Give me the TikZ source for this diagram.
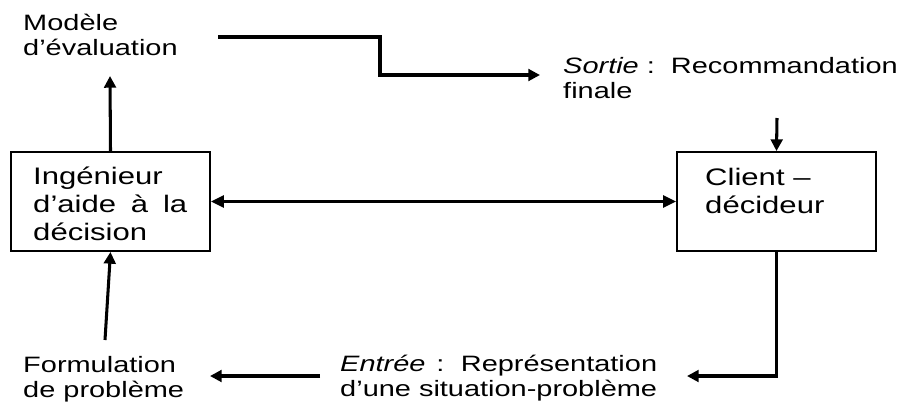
\documentclass[tikz,border=0pt]{standalone}
\usepackage{fontspec}
\setmainfont{Liberation Sans}[FakeStretch=1.3]
\usetikzlibrary{arrows.meta, positioning}
\newlength{\lignelong}

\begin{document}
\begin{tikzpicture}[
    x=0.3mm, y=-0.3mm,
    boite/.style={draw, line width=1.6pt, minimum width=59.7mm, minimum height=29.7mm, inner sep=0pt},
    texte/.style={inner sep=0pt, align=left, anchor=base west, font={\fontsize{19}{21.3}\selectfont}},
    texteboite/.style={inner sep=0pt, align=left, anchor=base west, font={\fontsize{20.4}{23.5}\selectfont}},
    fleche/.style={-{Triangle[length=10pt, width=10pt]}, line width=2.6pt},
    deuxsens/.style={{Triangle[length=11pt, width=10pt]}-{Triangle[length=11pt, width=10pt]}, line width=2.6pt},
    trait/.style={line width=2.6pt}
]
\useasboundingbox (0,0) rectangle (900,401);

% Boites
\node[boite] (ingenieur) at (110.5,201.5) {};
\node[boite] (client) at (776.5,201.5) {};

% Textes des boites
\node[texteboite] (ingtexte) at (33,240) {Ingénieur\\\makebox[46.2mm][s]{d’aide à la}\\décision};
\node[texteboite] (clitexte) at (705,213) {Client –\\décideur};

% Textes libres
\node[texte] (modele) at (23,55) {Modèle\\d’évaluation};
\node[texte] (sortie) at (563,98) {\textit{Sortie} :\ \ Recommandation\\finale};
\node[texte] (formulation) at (23,397) {Formulation\\de problème};
\node[texte] (entree) at (340,396) {\settowidth{\lignelong}{d’une situation-problème}%
    \makebox[\lignelong][s]{\textit{Entrée} : Représentation}\\d’une situation-problème};

% Points libres
\coordinate (modbas) at (110,76);
\coordinate (depart) at (218,37);
\coordinate (sortiefin) at (540,75);
\coordinate (sortiebas) at (777,118);
\coordinate (entreefin) at (687,376);
\coordinate (entreedebut) at (320,376);
\coordinate (formfin) at (210,376);
\coordinate (formhaut) at (105,340);

% Connecteurs
\draw[fleche] (ingenieur.north) -- (modbas);
\draw[fleche] (depart) -- (380,37) -- (380,75) -- (sortiefin);
\draw[fleche] (sortiebas) -- (client.north);
\draw[deuxsens] (ingenieur.east) -- (client.west);
\draw[fleche] (client.south) |- (entreefin);
\draw[fleche] (entreedebut) -- (formfin);
\draw[fleche] (formhaut) -- (ingenieur.south);
\end{tikzpicture}
\end{document}
